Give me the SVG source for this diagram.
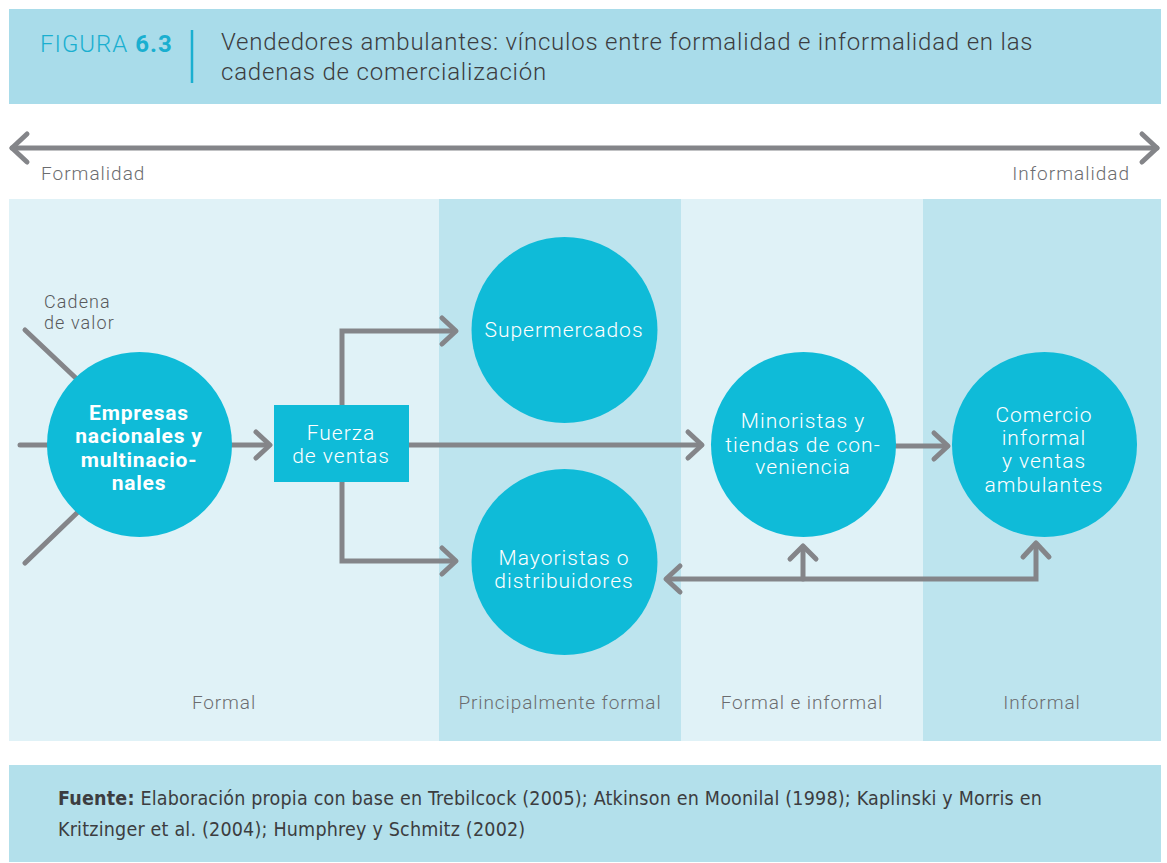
<svg xmlns="http://www.w3.org/2000/svg" width="1167" height="863" viewBox="0 0 1167 863">
  <defs>
    <style>
      .t { font-family: Roboto, "Liberation Sans", sans-serif; font-weight: 300; }
      .hd { fill: #3c3d40; font-size: 24px; letter-spacing: 0.8px; }
      .fig { fill: #1aafd0; font-size: 24px; letter-spacing: 1px; }
      .axis { fill: #6b6c6f; font-size: 19px; letter-spacing: 1px; }
      .zone { fill: #6b6c6f; font-size: 19px; letter-spacing: 0.9px; text-anchor: middle; }
      .node { fill: #ffffff; font-size: 21px; letter-spacing: 1px; text-anchor: middle; }
      .nodeb { fill: #ffffff; font-size: 21px; font-weight: bold; letter-spacing: 0.8px; text-anchor: middle; }
      .small { fill: #58595b; font-size: 18px; letter-spacing: 1.1px; }
      .src { fill: #3c3d40; font-size: 19.5px; letter-spacing: 0.2px; font-family: "DejaVu Sans Condensed", "DejaVu Sans", Roboto, sans-serif; font-stretch: condensed; }
      .bub { fill: #0fbbd8; }
      .ln { fill: none; stroke: #848589; stroke-width: 5; stroke-linecap: round; stroke-linejoin: miter; }
      .hd-chev { fill: none; stroke: #848589; stroke-width: 5; stroke-linecap: round; stroke-linejoin: round; }
    </style>
  </defs>

  <rect width="1167" height="863" fill="#ffffff"/>

  <!-- title band -->
  <g id="header">
    <rect x="9" y="9" width="1152" height="95" fill="#a9dcea"/>
    <text class="t fig" x="40" y="52">FIGURA <tspan font-weight="bold">6.3</tspan></text>
    <line x1="192" y1="30" x2="192" y2="83" stroke="#1aafd0" stroke-width="2.5"/>
    <text class="t hd" x="221" y="50">Vendedores ambulantes: vínculos entre formalidad e informalidad en las</text>
    <text class="t hd" x="221" y="80">cadenas de comercialización</text>
  </g>

  <!-- formality axis -->
  <g id="axis">
    <line class="ln" x1="12" y1="148" x2="1157" y2="148"/>
    <polyline class="hd-chev" points="27,134 12,148 27,162"/>
    <polyline class="hd-chev" points="1142,134 1157,148 1142,162"/>
    <text class="t axis" x="41" y="180">Formalidad</text>
    <text class="t axis" x="1130" y="180" text-anchor="end" letter-spacing="0.8">Informalidad</text>
  </g>

  <!-- zone columns -->
  <g id="zones">
    <rect x="9" y="199" width="430" height="542" fill="#e0f2f7"/>
    <rect x="439" y="199" width="242" height="542" fill="#bde4ee"/>
    <rect x="681" y="199" width="242" height="542" fill="#e0f2f7"/>
    <rect x="923" y="199" width="238" height="542" fill="#bde4ee"/>
    <text class="t zone" x="224" y="709">Formal</text>
    <text class="t zone" x="560" y="709">Principalmente formal</text>
    <text class="t zone" x="802" y="709">Formal e informal</text>
    <text class="t zone" x="1042" y="709">Informal</text>
  </g>

  <!-- connectors -->
  <g id="connectors">
    <line class="ln" x1="25" y1="330" x2="80" y2="382"/>
    <line class="ln" x1="20" y1="445" x2="60" y2="445"/>
    <line class="ln" x1="25" y1="563" x2="80" y2="510"/>

    <line class="ln" x1="232" y1="445" x2="268" y2="445"/>
    <polyline class="hd-chev" points="256,432 270,445 256,458"/>

    <polyline class="ln" points="342,405 342,331 455,331" stroke-linecap="butt"/>
    <polyline class="hd-chev" points="442,318 456,331 442,344"/>

    <polyline class="ln" points="342,482 342,561 455,561" stroke-linecap="butt"/>
    <polyline class="hd-chev" points="442,548 456,561 442,574"/>

    <line class="ln" x1="409" y1="445" x2="701" y2="445" stroke-linecap="butt"/>
    <polyline class="hd-chev" points="688,432 702,445 688,458"/>

    <line class="ln" x1="896" y1="446" x2="947" y2="446" stroke-linecap="butt"/>
    <polyline class="hd-chev" points="934,433 948,446 934,459"/>

    <polyline class="ln" points="667,579 1036,579 1036,545" stroke-linecap="butt"/>
    <polyline class="hd-chev" points="680,566 666,579 680,592"/>
    <polyline class="hd-chev" points="1023,557 1036,543 1049,557"/>
    <line class="ln" x1="803" y1="579" x2="803" y2="547" stroke-linecap="butt"/>
    <polyline class="hd-chev" points="790,559 803,546 816,559"/>
  </g>

  <g id="cadena-label">
    <text class="t small" x="44" y="308">Cadena</text>
    <text class="t small" x="44" y="329">de valor</text>
  </g>

  <g id="empresas">
    <circle class="bub" cx="139.5" cy="444.5" r="92.5"/>
    <text class="t nodeb" x="139" y="420">Empresas</text>
    <text class="t nodeb" x="139" y="443">nacionales y</text>
    <text class="t nodeb" x="139" y="467">multinacio-</text>
    <text class="t nodeb" x="139" y="490">nales</text>
  </g>

  <g id="fuerza">
    <rect x="274" y="405" width="135" height="77" fill="#0fbbd8"/>
    <text class="t node" x="341" y="440">Fuerza</text>
    <text class="t node" x="341" y="463">de ventas</text>
  </g>

  <g id="supermercados">
    <circle class="bub" cx="564.5" cy="330" r="93"/>
    <text class="t node" x="564" y="337">Supermercados</text>
  </g>

  <g id="mayoristas">
    <circle class="bub" cx="564.5" cy="562" r="93"/>
    <text class="t node" x="564" y="565">Mayoristas o</text>
    <text class="t node" x="564" y="588">distribuidores</text>
  </g>

  <g id="minoristas">
    <circle class="bub" cx="803.5" cy="444.5" r="92.5"/>
    <text class="t node" x="803" y="428">Minoristas y</text>
    <text class="t node" x="803" y="452">tiendas de con-</text>
    <text class="t node" x="803" y="474">veniencia</text>
  </g>

  <g id="comercio">
    <circle class="bub" cx="1044.5" cy="444.5" r="92.5"/>
    <text class="t node" x="1044" y="422">Comercio</text>
    <text class="t node" x="1044" y="445">informal</text>
    <text class="t node" x="1044" y="468">y ventas</text>
    <text class="t node" x="1044" y="492">ambulantes</text>
  </g>

  <!-- source note -->
  <g id="footer">
    <rect x="9" y="765" width="1152" height="97" fill="#b3e0eb"/>
    <text class="src" x="58" y="805"><tspan font-weight="bold">Fuente:</tspan> Elaboración propia con base en Trebilcock (2005); Atkinson en Moonilal (1998); Kaplinski y Morris en</text>
    <text class="src" x="58" y="836">Kritzinger et al. (2004); Humphrey y Schmitz (2002)</text>
  </g>
</svg>
